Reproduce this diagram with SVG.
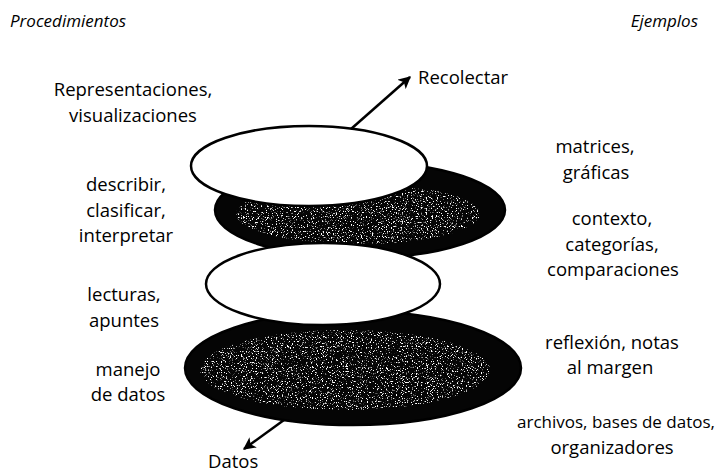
<svg xmlns="http://www.w3.org/2000/svg" width="726" height="473" viewBox="0 0 726 473">
<defs>
<style>
text{font-family:"Open Sans","Noto Sans",sans-serif;font-size:18.5px;fill:#000}
.c{text-anchor:middle}
.h{font-style:italic;font-size:17px}
.w{fill:#fff;stroke:#000;stroke-width:2.5}
.d{fill:#050505;stroke:#000;stroke-width:2.5}
.sp{fill:#000;filter:url(#speckle)}
.ln{stroke:#000;stroke-width:2.5;fill:none}
</style>
<filter id="speckle" x="0" y="0" width="100%" height="100%" color-interpolation-filters="sRGB">
<feTurbulence type="fractalNoise" baseFrequency="0.8" numOctaves="2" seed="7" result="n"/>
<feColorMatrix in="n" type="matrix" values="0 0 0 0 1  0 0 0 0 1  0 0 0 0 1  9 0 0 0 -5.3" result="dots"/>
<feComposite in="dots" in2="SourceAlpha" operator="in"/>
</filter>
<marker id="ah" viewBox="0 0 10 10" refX="9" refY="5" markerWidth="5" markerHeight="5" orient="auto" markerUnits="strokeWidth">
<path d="M0,0 L10,5 L0,10 L2.5,5 Z" fill="#000"/>
</marker>
</defs>
<rect width="726" height="473" fill="#fff"/>
<g id="headers">
<text class="h" x="10" y="27">Procedimientos</text>
<text class="h" x="698" y="27" text-anchor="end">Ejemplos</text>
</g>
<g id="layer-matrices">
<ellipse class="d" cx="360" cy="210" rx="145" ry="48"/>
<ellipse class="sp" cx="358" cy="214" rx="122" ry="30"/>
</g>
<g id="layer-reflexion">
<ellipse class="d" cx="353" cy="368" rx="168" ry="57"/>
<ellipse class="sp" cx="345" cy="370" rx="145" ry="40"/>
</g>
<g id="layer-lecturas">
<ellipse class="w" cx="323" cy="284" rx="117" ry="41"/>
</g>
<g id="layer-representaciones">
<ellipse class="w" cx="309" cy="166" rx="118" ry="40"/>
</g>
<g id="connectors">
<line class="ln" x1="351" y1="129" x2="410" y2="77" marker-end="url(#ah)"/>
<line class="ln" x1="284" y1="420" x2="244" y2="449" marker-end="url(#ah)"/>
</g>
<g id="labels-left">
<text class="c" x="133" y="96">Representaciones,</text>
<text class="c" x="133" y="122">visualizaciones</text>
<text class="c" x="126" y="191">describir,</text>
<text class="c" x="126" y="217">clasificar,</text>
<text class="c" x="126" y="242">interpretar</text>
<text class="c" x="124" y="301">lecturas,</text>
<text class="c" x="124" y="327">apuntes</text>
<text class="c" x="128" y="376">manejo</text>
<text class="c" x="128" y="401">de datos</text>
</g>
<g id="labels-right">
<text class="c" x="595" y="153">matrices,</text>
<text class="c" x="596" y="179">gráficas</text>
<text class="c" x="612" y="225">contexto,</text>
<text class="c" x="612" y="251">categorías,</text>
<text class="c" x="613" y="276">comparaciones</text>
<text class="c" x="612" y="349">reflexión, notas</text>
<text class="c" x="610" y="374">al margen</text>
<text class="c" x="616" y="428" style="font-size:17px">archivos, bases de datos,</text>
<text class="c" x="612" y="454">organizadores</text>
</g>
<g id="recolectar"><text x="418" y="84">Recolectar</text></g>
<g id="datos"><text x="208" y="468">Datos</text></g>
</svg>
